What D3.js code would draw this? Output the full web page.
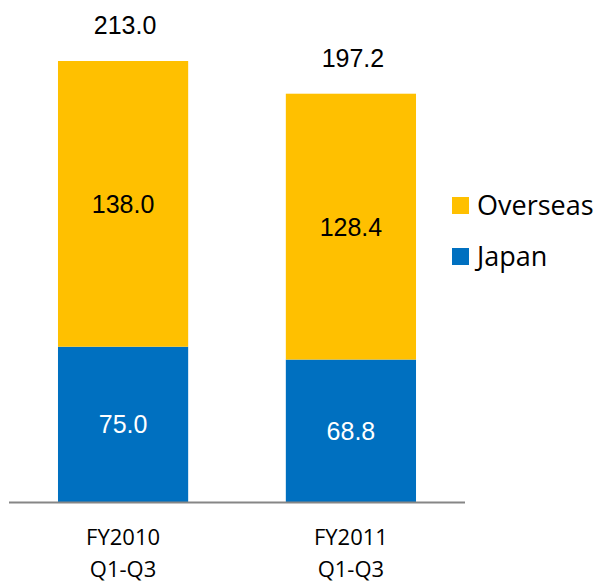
<!DOCTYPE html>
<html>
<head>
<meta charset="utf-8">
<script src="https://cdn.jsdelivr.net/npm/d3@7"></script>
<style>
  body { margin: 0; background: #fff; }
</style>
</head>
<body>
<div id="chart"></div>
<script>
// data
const periods = ["FY2010\nQ1-Q3", "FY2011\nQ1-Q3"];
const japan = [75.0, 68.8];
const overseas = [138.0, 128.4];
const totals = [213.0, 197.2];
const seriesNames = ["Overseas", "Japan"];
const seriesColors = ["#FFC000", "#0070C0"];

const width = 596, height = 584;

const svg = d3.select("#chart")
    .append("svg")
    .attr("width", width)
    .attr("height", height)
    .attr("viewBox", [0, 0, width, height]);

const x = d3.scaleBand()
    .domain(periods)
    .range([9, 465])
    .paddingInner(0.4286)
    .paddingOuter(0.215);

const y = d3.scaleLinear()
    .domain([0, 213])
    .range([502, 61]);

const stacked = d3.stack().keys(["japan", "overseas"])(
    periods.map((p, i) => ({ period: p, japan: japan[i], overseas: overseas[i] }))
);
const color = { japan: seriesColors[1], overseas: seriesColors[0] };

// bars
svg.append("g")
    .selectAll("g")
    .data(stacked)
    .join("g")
    .attr("fill", d => color[d.key])
    .selectAll("rect")
    .data(d => d)
    .join("rect")
    .attr("x", d => x(d.data.period))
    .attr("y", d => y(d[1]))
    .attr("width", x.bandwidth())
    .attr("height", d => y(d[0]) - y(d[1]));

// segment labels
svg.append("g")
    .selectAll("g")
    .data(stacked)
    .join("g")
    .attr("fill", d => d.key === "japan" ? "#fff" : "#000")
    .selectAll("text")
    .data(d => d)
    .join("text")
    .attr("x", d => x(d.data.period) + x.bandwidth() / 2)
    .attr("y", d => (y(d[0]) + y(d[1])) / 2 + 9)
    .attr("text-anchor", "middle")
    .style("font-family", "Arial, 'Liberation Sans', sans-serif")
    .style("font-size", "25px")
    .text(d => (d[1] - d[0]).toFixed(1));

// totals
svg.append("g")
    .selectAll("text")
    .data(periods)
    .join("text")
    .attr("x", d => x(d) + x.bandwidth() / 2 + 2)
    .attr("y", (d, i) => y(totals[i]) - 27)
    .attr("text-anchor", "middle")
    .style("font-family", "Arial, 'Liberation Sans', sans-serif")
    .style("font-size", "25px")
    .attr("fill", "#000")
    .text((d, i) => totals[i].toFixed(1));

// baseline
svg.append("line")
    .attr("x1", 9)
    .attr("x2", 465)
    .attr("y1", y(0) + 0.5)
    .attr("y2", y(0) + 0.5)
    .attr("stroke", "#868686")
    .attr("stroke-width", 2);

// category labels
const cat = svg.append("g")
    .selectAll("text")
    .data(periods)
    .join("text")
    .attr("text-anchor", "middle")
    .style("font-family", "'Open Sans', sans-serif")
    .style("font-size", "22px")
    .attr("fill", "#000");
cat.selectAll("tspan")
    .data(d => d.split("\n").map(t => ({ t, p: d })))
    .join("tspan")
    .attr("x", d => x(d.p) + x.bandwidth() / 2)
    .attr("y", (d, i) => 545 + i * 32)
    .text(d => d.t);

// legend
const legend = svg.append("g")
    .selectAll("g")
    .data(seriesNames)
    .join("g")
    .attr("transform", (d, i) => `translate(452, ${197 + i * 51})`);
legend.append("rect")
    .attr("width", 17)
    .attr("height", 17)
    .attr("fill", (d, i) => seriesColors[i]);
legend.append("text")
    .attr("x", 25)
    .attr("y", 18)
    .style("font-family", "'Open Sans', sans-serif")
    .style("font-size", "27px")
    .attr("fill", "#000")
    .text(d => d);
</script>
</body>
</html>
